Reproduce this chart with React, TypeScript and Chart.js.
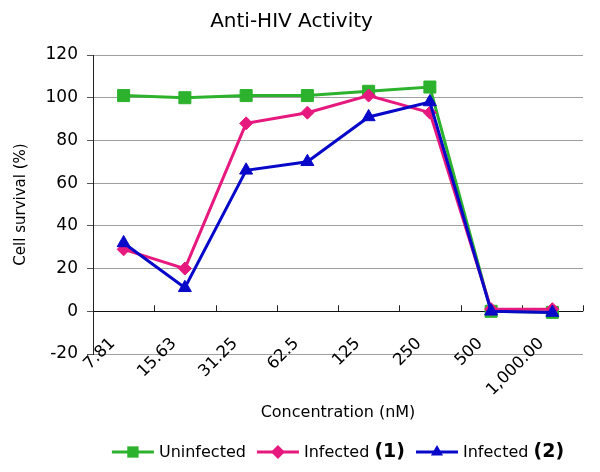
import React, { useEffect, useRef } from "react";
import { Chart, registerables } from "chart.js";

Chart.register(...registerables);

const categories = ["7.81", "15.63", "31.25", "62.5", "125", "250", "500", "1,000.00"];
const uninfected = [101, 100, 101, 101, 103, 105, 0, -0.5];
const infected1 = [29, 20, 88, 93, 101, 93, 1, 1];
const infected2 = [32, 11, 66, 70, 91, 98, 0, -0.6];
const yTicks = { min: -20, max: 120, step: 20 };

const GREEN = "#2CB22C";
const PINK = "#E6197F";
const BLUE = "#0808C8";
const FONT = "'DejaVu Sans', Verdana, sans-serif";

function drawMarker(ctx: CanvasRenderingContext2D, style: string, x: number, y: number, r: number) {
  ctx.beginPath();
  if (style === "rect") {
    const s = Math.SQRT1_2 * r;
    ctx.rect(x - s, y - s, 2 * s, 2 * s);
  } else if (style === "rectRot") {
    ctx.moveTo(x, y - r);
    ctx.lineTo(x + r, y);
    ctx.lineTo(x, y + r);
    ctx.lineTo(x - r, y);
    ctx.closePath();
  } else {
    const a = (2 * Math.PI) / 3;
    ctx.moveTo(x, y - r);
    ctx.lineTo(x + Math.sin(a) * r, y - Math.cos(a) * r);
    ctx.lineTo(x + Math.sin(2 * a) * r, y - Math.cos(2 * a) * r);
    ctx.closePath();
  }
  ctx.fill();
}

const zeroTicksPlugin = {
  id: "zeroTicks",
  beforeDatasetsDraw(chart: any) {
    const { ctx } = chart;
    const xs = chart.scales.x;
    const ys = chart.scales.y;
    const y0 = ys.getPixelForValue(0);
    const n = categories.length;
    const w = xs.width / n;
    ctx.save();
    ctx.strokeStyle = "#222";
    ctx.lineWidth = 1;
    ctx.beginPath();
    for (let i = 0; i < n; i++) {
      const x = Math.round(xs.getPixelForValue(i) + w / 2) + 0.5;
      ctx.moveTo(x, y0 - 6);
      ctx.lineTo(x, y0);
    }
    ctx.stroke();
    ctx.restore();
  },
};

const xLabelsPlugin = {
  id: "xLabels",
  afterDraw(chart: any) {
    const { ctx } = chart;
    const xs = chart.scales.x;
    const ys = chart.scales.y;
    ctx.save();
    ctx.font = `16.5px ${FONT}`;
    ctx.fillStyle = "#000";
    ctx.textAlign = "right";
    ctx.textBaseline = "middle";
    categories.forEach((lab, i) => {
      const x = xs.getPixelForValue(i) - 11;
      const y = ys.bottom - 13;
      ctx.save();
      ctx.translate(x, y);
      ctx.rotate(-Math.PI / 4);
      ctx.fillText(lab, 0, 0);
      ctx.restore();
    });
    ctx.restore();
  },
};

const legendPlugin = {
  id: "customLegend",
  afterDraw(chart: any) {
    const { ctx, chartArea } = chart;
    const y = chart.height - 20;
    const lineLen = 42;
    const gap = 5;
    const itemGap = 11;
    const normalFont = `16px ${FONT}`;
    const boldFont = `bold 19px ${FONT}`;
    ctx.save();
    const items = chart.data.datasets.map((ds: any) => {
      const m = /^(.*?)(\(\d\))?$/.exec(ds.label) as RegExpExecArray;
      const main = m[1];
      const bold = m[2] || "";
      ctx.font = normalFont;
      const wMain = ctx.measureText(main).width;
      ctx.font = boldFont;
      const wBold = bold ? ctx.measureText(bold).width : 0;
      return { ds, main, bold, wMain, wBold, width: lineLen + gap + wMain + wBold };
    });
    const total = items.reduce((s: number, it: any) => s + it.width, 0) + itemGap * (items.length - 1);
    let x = (chartArea.left + chartArea.right) / 2 - total / 2;
    for (const it of items) {
      const ds = it.ds;
      ctx.strokeStyle = ds.borderColor;
      ctx.lineWidth = 3;
      ctx.beginPath();
      ctx.moveTo(x, y);
      ctx.lineTo(x + lineLen, y);
      ctx.stroke();
      ctx.fillStyle = ds.borderColor;
      drawMarker(ctx, ds.pointStyle, x + lineLen / 2, y, ds.pointStyle === "rect" ? 8 : 7);
      let tx = x + lineLen + gap;
      ctx.fillStyle = "#000";
      ctx.textBaseline = "middle";
      ctx.textAlign = "left";
      ctx.font = normalFont;
      ctx.fillText(it.main, tx, y + 1);
      tx += it.wMain;
      if (it.bold) {
        ctx.font = boldFont;
        ctx.fillText(it.bold, tx, y);
      }
      x += it.width + itemGap;
    }
    ctx.restore();
  },
};

export default function App() {
  const ref = useRef<HTMLCanvasElement | null>(null);
  useEffect(() => {
    if (!ref.current) return;
    const chart = new Chart(ref.current, {
      type: "line",
      data: {
        labels: categories,
        datasets: [
          {
            label: "Uninfected",
            data: uninfected,
            borderColor: GREEN,
            backgroundColor: GREEN,
            pointStyle: "rect",
            pointRadius: 8.5,
            pointBorderWidth: 1,
            borderWidth: 3,
            order: 2,
          },
          {
            label: "Infected (1)",
            data: infected1,
            borderColor: PINK,
            backgroundColor: PINK,
            pointStyle: "rectRot",
            pointRadius: 6.5,
            pointBorderWidth: 1,
            borderWidth: 3,
            order: 1,
          },
          {
            label: "Infected (2)",
            data: infected2,
            borderColor: BLUE,
            backgroundColor: BLUE,
            pointStyle: "triangle",
            pointRadius: 7.5,
            pointBorderWidth: 1,
            borderWidth: 3,
            order: 0,
          },
        ],
      } as any,
      options: {
        animation: false,
        responsive: false,
        layout: { padding: { left: 0, right: 17, top: 0, bottom: 40 } },
        plugins: {
          legend: { display: false },
          tooltip: { enabled: false },
          title: {
            display: true,
            text: "Anti-HIV Activity",
            color: "#000",
            font: { family: FONT, size: 20, weight: "normal" },
            padding: { top: 10, bottom: 21 },
          },
        },
        scales: {
          x: {
            offset: true,
            grid: { display: false, drawTicks: false },
            border: { display: false },
            ticks: { display: false, autoSkip: false },
            title: {
              display: true,
              text: "Concentration (nM)",
              color: "#000",
              font: { family: FONT, size: 16 },
              padding: { top: 0, bottom: 10 },
            },
            afterFit: (s: any) => {
              s.height = 78;
            },
          },
          y: {
            min: yTicks.min,
            max: yTicks.max,
            grid: {
              color: (c: any) => (c.tick && c.tick.value === 0 ? "#111" : "#a0a0a0"),
              tickColor: "#555",
              tickLength: 6,
              lineWidth: 1,
            },
            border: { display: true, color: "#222", width: 1 },
            ticks: {
              stepSize: yTicks.step,
              color: "#000",
              font: { family: FONT, size: 17 },
              padding: 9,
            },
            title: {
              display: true,
              text: "Cell survival (%)",
              color: "#000",
              font: { family: FONT, size: 15 },
              padding: { top: 12, bottom: 0 },
            },
            afterFit: (s: any) => {
              s.width = 93;
            },
          },
        },
      } as any,
      plugins: [zeroTicksPlugin, xLabelsPlugin, legendPlugin],
    });
    return () => chart.destroy();
  }, []);
  return (
    <div style={{ position: "fixed", left: 0, top: 0, width: 600, height: 472, background: "#fff" }}>
      <canvas ref={ref} width={600} height={472} />
    </div>
  );
}
